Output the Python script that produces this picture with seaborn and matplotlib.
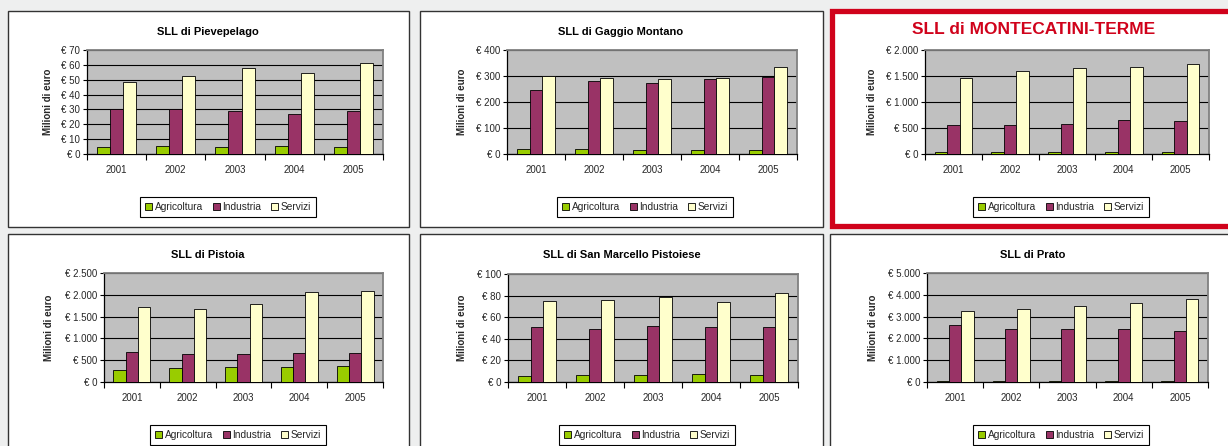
import matplotlib
matplotlib.use('Agg')
import matplotlib.pyplot as plt
import seaborn as sns
import pandas as pd
from matplotlib.patches import Rectangle, Patch
from matplotlib.ticker import FuncFormatter, MultipleLocator

# --- dati (milioni di euro) ---
anni = ['2001', '2002', '2003', '2004', '2005']
settori = ['Agricoltura', 'Industria', 'Servizi']
colori = ['#99cc00', '#993366', '#ffffcc']

pievepelago_agr = [4.7, 5.2, 4.5, 5.2, 4.5]
pievepelago_ind = [30.6, 30.6, 28.8, 26.6, 28.8]
pievepelago_ser = [48.2, 52.7, 57.7, 54.3, 61.0]

gaggio_agr = [20, 20, 17, 17, 17]
gaggio_ind = [248, 280, 274, 290, 296]
gaggio_ser = [300, 293, 290, 293, 335]

montecatini_agr = [42, 42, 42, 42, 42]
montecatini_ind = [550, 563, 570, 647, 627]
montecatini_ser = [1455, 1604, 1656, 1669, 1727]

pistoia_agr = [275, 321, 344, 344, 367]
pistoia_ind = [688, 642, 642, 665, 665]
pistoia_ser = [1720, 1674, 1789, 2064, 2080]

sanmarcello_agr = [5.9, 6.8, 6.8, 7.7, 6.8]
sanmarcello_ind = [50.9, 49.4, 51.9, 50.9, 51.2]
sanmarcello_ser = [75.3, 76.2, 78.7, 74.4, 82.7]

prato_agr = [40, 40, 40, 40, 40]
prato_ind = [2608, 2454, 2423, 2423, 2361]
prato_ser = [3256, 3364, 3488, 3627, 3812]

W, H = 1228, 446

sns.set_theme(style='white')
plt.rcParams['font.family'] = ['Liberation Sans', 'DejaVu Sans']

fig = plt.figure(figsize=(W / 100, H / 100), dpi=100)
fig.patch.set_facecolor('#eeefef')


def px_rect(x0, y0, x1, y1):
    return [x0 / W, 1 - y1 / H, (x1 - x0) / W, (y1 - y0) / H]


def euro(v, pos):
    s = f'{int(round(v)):,}'.replace(',', '.')
    return f'€ {s}'


pannelli = [
    dict(titolo='SLL di Pievepelago', dati=(pievepelago_agr, pievepelago_ind, pievepelago_ser),
         ymax=70, passo=10, box=(8, 11, 409, 227), ax=(87, 50, 383, 154),
         tx=208, ty=32, lx=48, leg=(228, 207)),
    dict(titolo='SLL di Gaggio Montano', dati=(gaggio_agr, gaggio_ind, gaggio_ser),
         ymax=400, passo=100, box=(420, 11, 823, 227), ax=(507, 50, 797, 154),
         tx=621, ty=32, lx=462, leg=(645, 207)),
    dict(titolo='SLL di MONTECATINI-TERME', dati=(montecatini_agr, montecatini_ind, montecatini_ser),
         ymax=2000, passo=500, box=(832, 11, 1240, 226), ax=(925, 50, 1209, 154),
         tx=1034, ty=30, lx=872, leg=(1061, 207), rosso=True),
    dict(titolo='SLL di Pistoia', dati=(pistoia_agr, pistoia_ind, pistoia_ser),
         ymax=2500, passo=500, box=(8, 234, 409, 460), ax=(104, 273, 383, 382),
         tx=208, ty=255, lx=49, leg=(238, 435)),
    dict(titolo='SLL di San Marcello Pistoiese', dati=(sanmarcello_agr, sanmarcello_ind, sanmarcello_ser),
         ymax=100, passo=20, box=(420, 234, 823, 460), ax=(508, 274, 798, 382),
         tx=622, ty=255, lx=462, leg=(647, 435)),
    dict(titolo='SLL di Prato', dati=(prato_agr, prato_ind, prato_ser),
         ymax=5000, passo=1000, box=(830, 234, 1240, 460), ax=(927, 273, 1208, 382),
         tx=1033, ty=255, lx=873, leg=(1061, 435)),
]

for p in pannelli:
    x0, y0, x1, y1 = p['box']
    rosso = p.get('rosso', False)
    fig.patches.append(Rectangle((x0 / W, 1 - y1 / H), (x1 - x0) / W, (y1 - y0) / H,
                                 transform=fig.transFigure, facecolor='white',
                                 edgecolor='#d0021b' if rosso else '#333333',
                                 linewidth=3.8 if rosso else 1.0, zorder=-5))

    rows = []
    for settore, valori in zip(settori, p['dati']):
        for anno, v in zip(anni, valori):
            rows.append({'anno': anno, 'settore': settore, 'valore': v})
    df = pd.DataFrame(rows)

    ax = fig.add_axes(px_rect(*p['ax']))
    sns.barplot(data=df, x='anno', y='valore', hue='settore', hue_order=settori,
                palette=colori, width=0.66, saturation=1, edgecolor='black',
                linewidth=0.6, legend=False, ax=ax, zorder=3)
    ax.set_facecolor('#c0c0c0')
    ax.set_xlim(-0.5, 4.5)
    ax.set_ylim(0, p['ymax'])
    ax.yaxis.set_major_locator(MultipleLocator(p['passo']))
    ax.yaxis.set_major_formatter(FuncFormatter(euro))
    ax.yaxis.grid(True, color='black', linewidth=0.8, zorder=1)
    ax.set_axisbelow(True)
    ax.set_xlabel('')
    ax.set_ylabel('')
    for s in ['top', 'right']:
        ax.spines[s].set_color('#808080')
        ax.spines[s].set_linewidth(1.3)
    for s in ['left', 'bottom']:
        ax.spines[s].set_color('black')
        ax.spines[s].set_linewidth(0.9)
    ax.tick_params(axis='y', which='major', length=3, width=0.8, color='black',
                   direction='out', left=True, labelsize=7, pad=2)
    ax.tick_params(axis='x', which='major', length=0, labelsize=7, pad=8)
    ax.set_xticks([-0.5, 0.5, 1.5, 2.5, 3.5, 4.5], minor=True)
    ax.tick_params(axis='x', which='minor', length=4, width=0.8, color='black',
                   direction='out', bottom=True)

    if rosso:
        fig.text(p['tx'] / W, 1 - p['ty'] / H, p['titolo'], ha='center', va='center',
                 fontsize=12.5, fontweight='bold', color='#d0021b')
    else:
        fig.text(p['tx'] / W, 1 - p['ty'] / H, p['titolo'], ha='center', va='center',
                 fontsize=8, fontweight='bold', color='black')
    ym = (p['ax'][1] + p['ax'][3]) / 2
    fig.text(p['lx'] / W, 1 - ym / H, 'Milioni di euro', rotation=90, ha='center',
             va='center', fontsize=7, fontweight='bold')

    handles = [Patch(facecolor=c, edgecolor='black', linewidth=0.6) for c in colori]
    lx, ly = p['leg']
    leg = fig.legend(handles, settori, loc='center', bbox_to_anchor=(lx / W, 1 - ly / H),
                     ncol=3, frameon=True, fancybox=False, fontsize=7.3,
                     handlelength=0.7, handleheight=0.7, handletextpad=0.2,
                     columnspacing=1.0, borderpad=0.5, borderaxespad=0)
    leg.get_frame().set_edgecolor('black')
    leg.get_frame().set_linewidth(0.8)
    leg.get_frame().set_alpha(1)

fig.savefig('out.png', dpi=100, facecolor=fig.get_facecolor())
